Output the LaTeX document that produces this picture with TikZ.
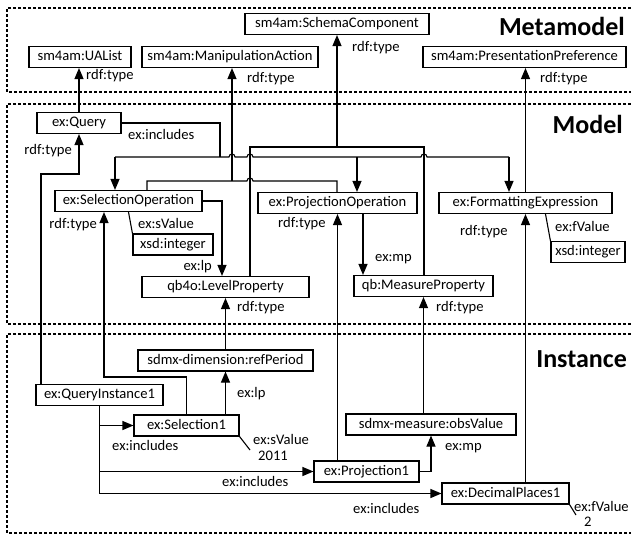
\documentclass[tikz,border=0pt]{standalone}
\usepackage{fontspec}
\setmainfont{Carlito}
\usetikzlibrary{arrows.meta,positioning,calc}

\begin{document}
\begin{tikzpicture}[x=1pt, y=-1pt,
    every node/.style={font=\fontsize{14.6}{17}\selectfont},
    cls/.style={draw, rectangle, line width=1.1pt, inner xsep=4pt, inner ysep=0pt, minimum height=21pt, text height=10.5pt, text depth=3pt},
    lbl/.style={inner sep=0pt, text height=10pt, text depth=3pt, anchor=west},
    ln/.style={line width=1.1pt},
    arr/.style={ln, -{Triangle[length=11pt, width=9pt]}},
    layer/.style={line width=1.8pt, dash pattern=on 3pt off 2pt},
    title/.style={font=\fontsize{26}{30}\selectfont\bfseries, inner sep=0pt, anchor=base east}]
    \useasboundingbox (0,0) rectangle (631,535);

    % Layers
    \draw[layer] (631,8) -- (7,8) -- (7,92) -- (631,92);
    \draw[layer] (631,104) -- (7,104) -- (7,324) -- (631,324);
    \draw[layer] (631,334) -- (7,334) -- (7,533) -- (631,533);
    \node[title] (tmeta) at (625,36) {Metamodel};
    \node[title] (tmodel) at (623,133) {Model};
    \node[title] (tinst) at (627,367) {Instance};

    % Metamodel
    \node[cls, minimum width=102pt] (ualist) at (80,57) {sm4am:UAList};
    \node[cls, minimum width=176pt] (manip) at (230,57) {sm4am:ManipulationAction};
    \node[cls, minimum width=184pt] (schema) at (337,24) {sm4am:SchemaComponent};
    \node[cls, minimum width=203pt] (presp) at (524.5,57) {sm4am:PresentationPreference};

    % Model
    \node[cls, minimum width=84pt] (query) at (79,123) {ex:Query};
    \node[cls, minimum width=147pt] (selop) at (128.5,201) {ex:SelectionOperation};
    \node[cls, minimum width=80pt] (xsdl) at (173,244.5) {xsd:integer};
    \node[cls, minimum width=167pt] (levelp) at (225.5,287) {qb4o:LevelProperty};
    \node[cls, minimum width=159pt] (projop) at (337.5,203) {ex:ProjectionOperation};
    \node[cls, minimum width=139pt] (measp) at (423.5,286) {qb:MeasureProperty};
    \node[cls, minimum width=173pt] (formexp) at (525.5,203) {ex:FormattingExpression};
    \node[cls, minimum width=74pt] (xsdr) at (588,252) {xsd:integer};

    % Instance
    \node[cls, minimum width=175pt] (refper) at (225.5,360.5) {sdmx-dimension:refPeriod};
    \node[cls, minimum width=127pt] (qinst) at (99.5,395) {ex:QueryInstance1};
    \node[cls, minimum width=105pt] (sel1) at (186.5,425.5) {ex:Selection1};
    \node[cls, minimum width=170pt] (obsval) at (431,424.5) {sdmx-measure:obsValue};
    \node[cls, minimum width=105pt] (proj1) at (366.5,471.5) {ex:Projection1};
    \node[cls, minimum width=127pt] (decpl) at (505.5,493.5) {ex:DecimalPlaces1};

    % Bend points
    \coordinate (qinc) at (220,157);
    \coordinate (qa) at (115,157);
    \coordinate (qb) at (357,157);
    \coordinate (qc) at (509,157);
    \coordinate (ma) at (147,181);
    \coordinate (mb) at (337,181);
    \coordinate (mc) at (232,181);
    \coordinate (sa) at (250,147);
    \coordinate (sb) at (424,147);
    \coordinate (sc) at (337,147);
    \coordinate (lpx) at (222,240);
    \coordinate (mpx) at (363,240);
    \coordinate (qt) at (41,174);
    \coordinate (st) at (104,377);
    \coordinate (sv) at (250,450);
    \coordinate (fv) at (576,515);

    % Model -> Metamodel
    \draw[arr] (query.north) -- (query.north |- ualist.south);
    \draw[ln] (sa |- levelp.north) -- (sa) -- (sb) -- (sb |- measp.north);
    \draw[arr] (sc) -- (sc |- schema.south);
    \draw[ln] (ma |- selop.north) -- (ma) -- (247,181) arc[start angle=180, end angle=0, radius=3pt] -- (mb) -- (mb |- projop.north);
    \draw[arr] (mc) -- (mc |- manip.south);
    \draw[arr] (formexp.north) -- (formexp.north |- presp.south);

    % Model
    \draw[ln] (query.east) -| (qinc);
    \draw[ln] (qa) -- (229,157) arc[start angle=180, end angle=0, radius=3pt] -- (247,157) arc[start angle=180, end angle=0, radius=3pt] -- (421,157) arc[start angle=180, end angle=0, radius=3pt] -- (qc);
    \draw[arr] (qa) -- (qa |- selop.north);
    \draw[arr] (qb) -- (qb |- projop.north);
    \draw[arr] (qc) -- (qc |- formexp.north);
    \draw[arr] (selop.east) -| (lpx |- levelp.north);
    \draw[ln] (selop.south) -- (xsdl.north west);
    \draw[arr] (mpx |- projop.south) -- (mpx |- measp.north);
    \draw[ln] ($(formexp.south)+(20,0)$) -- (xsdr.north west);

    % Instance -> Model
    \draw[arr] (qt |- qinst.north) -- (qt) -| (query.south);
    \draw[arr] (sel1.north) |- (st) -- (st |- selop.south);
    \draw[arr] (refper.north) -- (levelp.south);
    \draw[arr] (projop.south |- proj1.north) -- (projop.south);
    \draw[arr] (measp.south |- obsval.north) -- (measp.south);
    \draw[arr] (formexp.south |- decpl.north) -- (formexp.south);

    % Instance
    \draw[arr] (refper.south |- sel1.north) -- (refper.south);
    \draw[arr] (proj1.east) -| (obsval.south);
    \draw[arr] (qinst.south) |- (sel1.west);
    \draw[arr] (qinst.south) |- (proj1.west);
    \draw[arr] (qinst.south) |- (decpl.west);
    \draw[ln] (sel1.south east) -- (sv);
    \draw[ln] (decpl.south east) -- (fv);

    % Labels
    \node[lbl] (t1) at (86,76) {rdf:type};
    \node[lbl] (t2) at (247,79) {rdf:type};
    \node[lbl] (t3) at (352,48) {rdf:type};
    \node[lbl] (t4) at (540,79) {rdf:type};
    \node[lbl] (i0) at (128,136) {ex:includes};
    \node[lbl, anchor=east] (t5) at (72,151) {rdf:type};
    \node[lbl, anchor=east] (t6) at (97,225) {rdf:type};
    \node[lbl] (sv1) at (138,225) {ex:sValue};
    \node[lbl, anchor=east] (lp1) at (212,267) {ex:lp};
    \node[lbl] (t7) at (237,308) {rdf:type};
    \node[lbl] (t8) at (278,224) {rdf:type};
    \node[lbl] (mp1) at (375,258) {ex:mp};
    \node[lbl] (t9) at (436,308) {rdf:type};
    \node[lbl] (t10) at (460,232) {rdf:type};
    \node[lbl] (fv1) at (555,228) {ex:fValue};
    \node[lbl] (lp2) at (237,394) {ex:lp};
    \node[lbl] (sv2) at (253,441) {ex:sValue};
    \node[lbl] (sv2v) at (258,457) {2011};
    \node[lbl] (i1) at (112,447) {ex:includes};
    \node[lbl] (i2) at (222,483) {ex:includes};
    \node[lbl] (i3) at (353,510) {ex:includes};
    \node[lbl] (mp2) at (445,447) {ex:mp};
    \node[lbl] (fv2) at (574,508) {ex:fValue};
    \node[lbl] (fv2v) at (584,523) {2};
\end{tikzpicture}
\end{document}
